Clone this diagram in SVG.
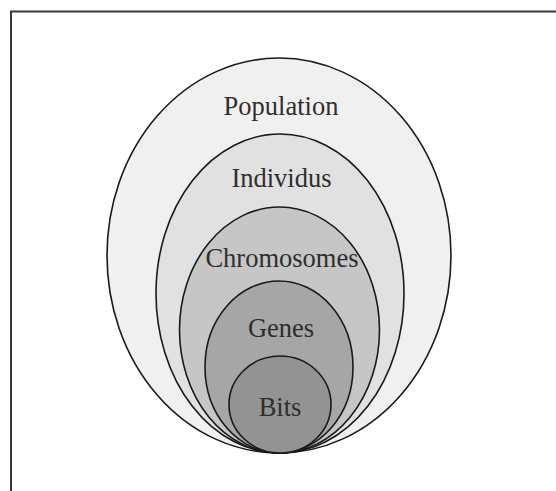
<svg xmlns="http://www.w3.org/2000/svg" width="556" height="491" viewBox="0 0 556 491">
<style>
.e{stroke:#1a1a1a;stroke-width:1.6}
.t{font-family:"Liberation Serif","Times New Roman",serif;font-size:26.5px;fill:#2e2e2e;text-anchor:middle}
</style>
<rect width="556" height="491" fill="#ffffff"/>
<g id="frame" fill="none" stroke="#3a3a3a" stroke-width="2">
<path d="M11,491 V11.5 H556"/>
</g>
<g id="population"><ellipse class="e" cx="279" cy="255.5" rx="172" ry="197.5" fill="#f0f0f0"/><text class="t" x="281" y="115">Population</text></g>
<g id="individus"><ellipse class="e" cx="280" cy="293.5" rx="124" ry="159.5" fill="#e1e1e1"/><text class="t" x="281.5" y="187">Individus</text></g>
<g id="chromosomes"><ellipse class="e" cx="279.5" cy="330" rx="100" ry="123" fill="#c6c6c6"/><text class="t" x="282" y="267">Chromosomes</text></g>
<g id="genes"><ellipse class="e" cx="279" cy="367" rx="74" ry="86" fill="#a6a6a6"/><text class="t" x="281" y="337">Genes</text></g>
<g id="bits"><ellipse class="e" cx="280" cy="404.5" rx="51" ry="48.5" fill="#939393"/><text class="t" x="280" y="416">Bits</text></g>
<g id="connectors"/>
</svg>
